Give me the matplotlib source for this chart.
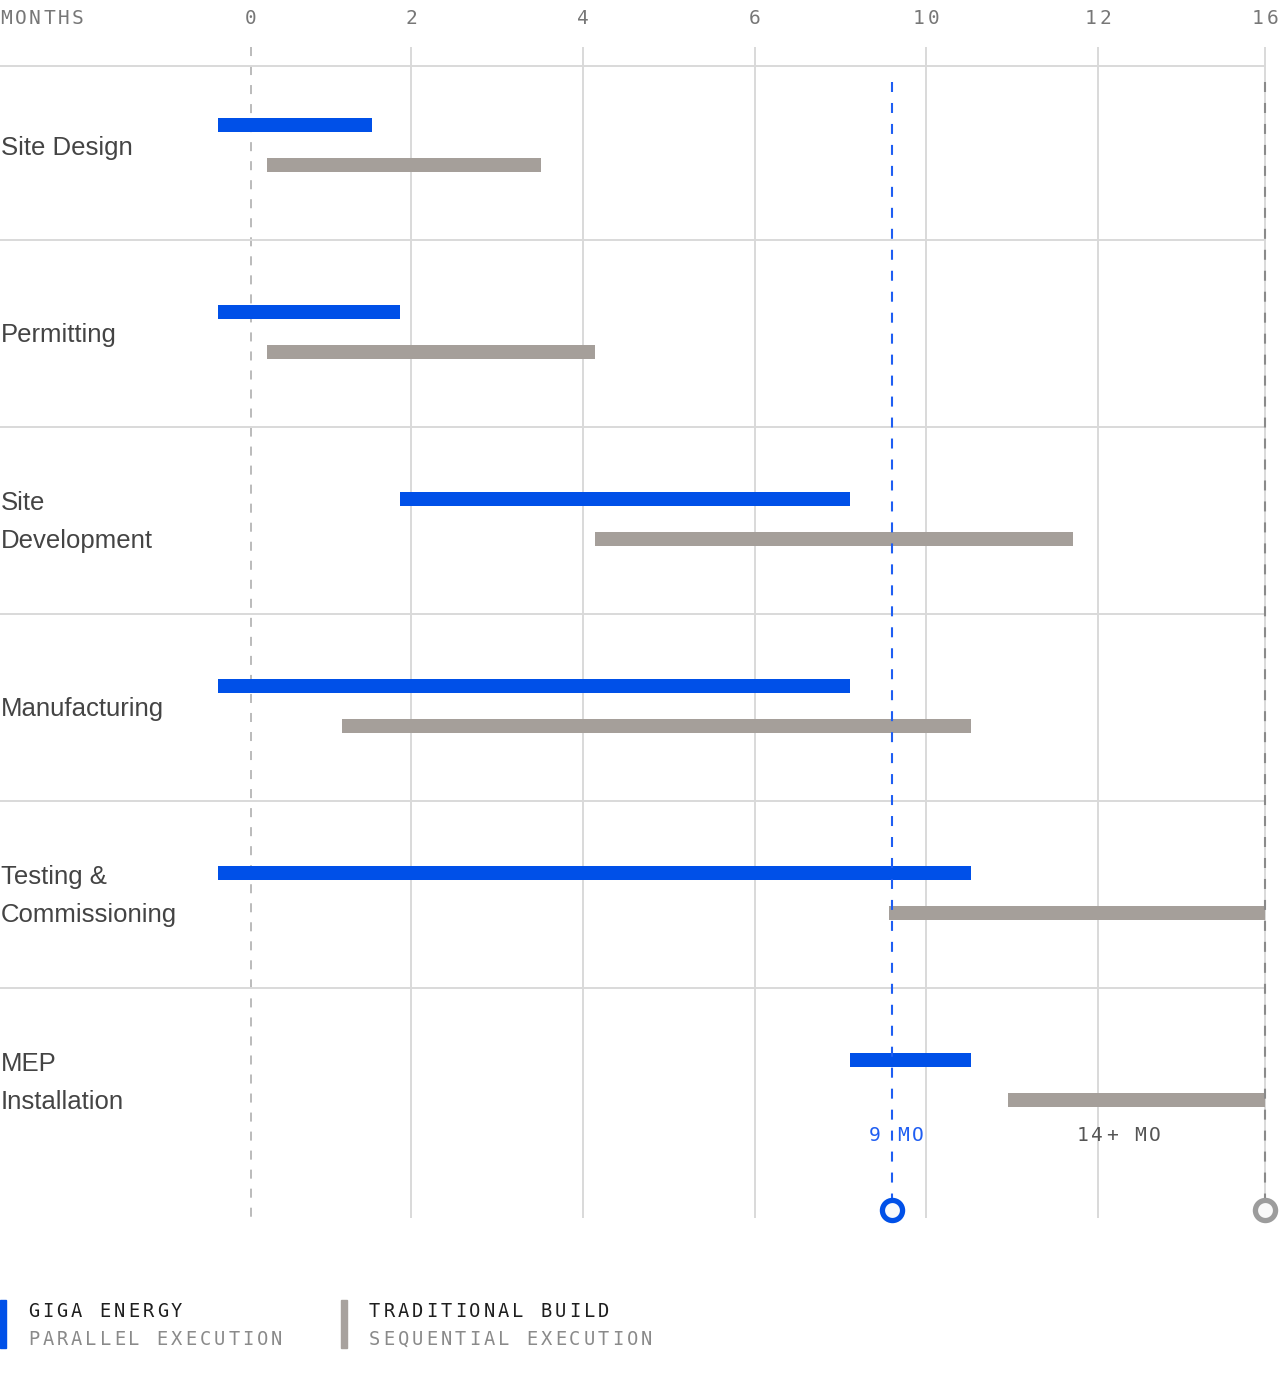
#!/usr/bin/env python3

import matplotlib
matplotlib.use('Agg')
import matplotlib.pyplot as plt
import matplotlib.transforms as mtransforms
from matplotlib.patches import Rectangle

# ---- data (x in timeline units, y = row index) ----
phases = ['Site Design', 'Permitting', 'Site\nDevelopment', 'Manufacturing',
          'Testing &\nCommissioning', 'MEP\nInstallation']
giga_start = [-0.38, -0.38, 1.73, -0.38, -0.38, 6.97]
giga_end = [1.41, 1.73, 6.97, 6.97, 8.37, 8.37]
trad_start = [0.19, 0.19, 4.00, 1.06, 7.42, 8.80]
trad_end = [3.37, 4.00, 9.56, 8.37, 11.79, 11.79]

tick_pos = [0, 1.86, 3.86, 5.86, 7.85, 9.85, 11.79]
tick_labels = ['0', '2', '4', '6', '10', '12', '16']

giga_total = 7.45
trad_total = 11.79
giga_label = '9 MO'
trad_label = '14+ MO'
trad_label_x = 10.09

BLUE = '#0050e8'
BLUE_LINE = '#1f5ef2'
GREY = '#a59f9a'
GRID = '#d9d9d9'

W, H, DPI = 1280, 1387, 100
X0, XPX = 251, 86      # pixel of 0, pixels per unit
Y0, YPX = 146, 187     # pixel of first row centre, pixels per row

plt.rcParams['lines.scale_dashes'] = False

fig = plt.figure(figsize=(W / DPI, H / DPI), dpi=DPI)
ax = fig.add_axes([0, 0, 1, 1])
ax.set_xlim(-X0 / XPX, (W - X0) / XPX)
ax.set_ylim((H - Y0) / YPX, -Y0 / YPX)
ax.axis('off')


def uy(px):
    return (px - Y0) / YPX


def mono(x, y, s, size, color, step, ha='left', transform=None):
    # monospace text with extra letter spacing, one glyph at a time
    em = size * DPI / 72
    cw = 0.602 * em
    width = (len(s) - 1) * step + cw
    start = 0 if ha == 'left' else -width / 2
    cap = 0.729 * em
    for i, ch in enumerate(s):
        dx = (start + cw / 2 + i * step) / DPI
        off = mtransforms.ScaledTranslation(dx, -cap / 2 / DPI, fig.dpi_scale_trans)
        ax.text(x, y, ch, transform=transform + off, ha='center', va='baseline',
                fontsize=size, color=color, family='DejaVu Sans Mono')


x_left = ax.get_xlim()[0]
n = len(phases)

# grid
grid_top, grid_bot = uy(47), uy(1218)
ax.vlines(tick_pos[1:], grid_top, grid_bot, color=GRID, lw=1.4, zorder=1)
ax.vlines(tick_pos[0], grid_top, grid_bot, color='#a8a8a8', lw=1.1,
          linestyles=[(0, (6.5, 7.2))], zorder=1)
ax.hlines([uy(66)] + [i + 0.5 for i in range(n - 1)], x_left, tick_pos[-1],
          color=GRID, lw=1.4, zorder=1)

# bars
ys = list(range(n))
bh = 14 / YPX
ax.barh([y - 0.11 for y in ys], [e - s for s, e in zip(giga_start, giga_end)],
        left=giga_start, height=bh, color=BLUE, zorder=3)
ax.barh([y + 0.10 for y in ys], [e - s for s, e in zip(trad_start, trad_end)],
        left=trad_start, height=bh, color=GREY, zorder=3)

# row labels
for i, name in enumerate(phases):
    ax.text(x_left + 0.01, i + 2 / YPX, name, ha='left', va='center', fontsize=18.5,
            color='#444444', family='Liberation Sans', linespacing=1.7)

# total markers
circ_y = uy(1210)
ax.vlines(giga_total, uy(82), circ_y, color=BLUE_LINE, lw=1.5,
          linestyles=[(0, (7.2, 7.9))], zorder=4)
ax.vlines(trad_total, uy(82), circ_y, color='#8a8a8a', lw=1.5,
          linestyles=[(0, (7.2, 7.9))], zorder=4)
ax.plot([giga_total], [circ_y], 'o', ms=14.5, mew=3.8, mec=BLUE, mfc='#f7f9fc', zorder=5)
ax.plot([trad_total], [circ_y], 'o', ms=14.5, mew=3.8, mec='#9c9c9c', mfc='#f9f9f9', zorder=5)

mono(giga_total + 0.05, uy(1134), giga_label, 14, BLUE_LINE, 14.3, 'center', ax.transData)
mono(trad_label_x, uy(1134), trad_label, 14, '#555555', 14.3, 'center', ax.transData)

# top axis labels
for p, lab in zip(tick_pos, tick_labels):
    mono(p, uy(17), lab, 14, '#777777', 14.5, 'center', ax.transData)
mono(0, 1 - 17 / H, 'MONTHS', 14, '#777777', 14.4, 'left', fig.transFigure)

# legend
for x_px, col, title, sub in [(0, BLUE, 'GIGA ENERGY', 'PARALLEL EXECUTION'),
                              (341, '#a8a29e', 'TRADITIONAL BUILD', 'SEQUENTIAL EXECUTION')]:
    fig.patches.append(Rectangle((x_px / W, 1 - 1348 / H), 6 / W, 48 / H,
                                 transform=fig.transFigure, color=col))
    mono((x_px + 28) / W, 1 - 1310 / H, title, 13.5, '#1e1e1e', 14.3, 'left', fig.transFigure)
    mono((x_px + 28) / W, 1 - 1338 / H, sub, 13.5, '#8a8a8a', 14.3, 'left', fig.transFigure)

fig.savefig('out.png', dpi=DPI)
